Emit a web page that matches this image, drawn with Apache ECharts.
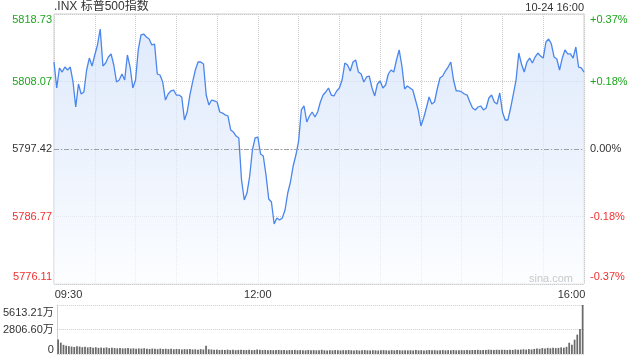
<!DOCTYPE html>
<html><head><meta charset="utf-8">
<script src="https://cdn.jsdelivr.net/npm/echarts@6/dist/echarts.min.js"></script>
<style>html,body{margin:0;padding:0;background:#fff}#c{width:640px;height:360px}</style>
</head><body><div id="c"></div>
<script>
const prevClose = 5797.42;
const step = 10.655;
const leftTicks = ['5776.11','5786.77','5797.42','5808.07','5818.73'];
const rightTicks = ['-0.37%','-0.18%','0.00%','+0.18%','+0.37%'];
const volTicks = ['0','2806.60万','5613.21万'];
const timeLabels = ['09:30','12:00','16:00'];
const titleText = '.INX 标普500指数';
const dateText = '10-24 16:00';

// price every 2 minutes, 09:30 .. 16:00
const prices = [
5811.15,5807.05,5810.21,5809.57,5810.36,5809.89,5810.36,5808.00,5804.05,5807.68,
5806.10,5806.42,5809.89,5811.78,5810.52,5812.26,5813.84,5816.36,5810.52,5810.99,
5811.94,5812.42,5810.68,5808.00,5808.31,5809.26,5808.31,5812.26,5810.36,5807.05,
5808.31,5813.05,5815.42,5815.57,5815.10,5814.78,5813.84,5813.99,5809.26,5809.10,
5808.00,5805.15,5806.10,5806.58,5806.73,5805.94,5805.94,5805.63,5802.00,5803.26,
5805.94,5808.00,5809.89,5811.15,5811.15,5810.84,5805.94,5804.36,5805.15,5805.00,
5804.84,5803.26,5803.10,5802.79,5802.63,5800.42,5800.10,5799.47,5799.16,5792.53,
5789.37,5790.47,5793.16,5797.26,5799.16,5799.31,5796.63,5796.31,5793.31,5789.53,
5789.05,5785.58,5786.53,5786.21,5786.53,5787.79,5790.47,5792.21,5794.74,5796.47,
5798.68,5803.58,5804.21,5801.68,5802.63,5803.26,5802.47,5803.26,5804.84,5805.94,
5806.42,5807.05,5805.94,5805.79,5806.58,5807.05,5808.31,5810.99,5810.68,5809.73,
5811.15,5811.47,5809.57,5809.26,5808.00,5808.79,5808.94,5807.05,5805.79,5807.68,
5808.15,5807.05,5807.52,5809.26,5809.89,5809.57,5811.47,5813.05,5810.52,5806.89,
5807.36,5807.05,5806.73,5805.15,5803.58,5801.05,5802.31,5803.89,5805.63,5804.52,
5804.84,5806.89,5808.63,5808.94,5809.73,5810.36,5811.15,5808.31,5806.58,5806.58,
5806.42,5806.10,5805.94,5804.84,5803.89,5803.58,5804.05,5804.21,5803.58,5803.89,
5805.47,5805.94,5804.84,5804.52,5806.26,5803.26,5802.00,5802.00,5803.89,5806.10,
5808.31,5812.57,5810.84,5809.57,5811.15,5811.78,5810.99,5811.94,5812.57,5812.10,
5811.78,5814.31,5814.78,5813.99,5811.94,5811.63,5809.89,5811.78,5813.05,5812.42,
5812.42,5811.78,5813.52,5810.36,5810.21,5809.57
];

// volume (万) every 2 minutes
const volumes = [
1650,1300,1050,950,900,850,800,900,850,780,
820,760,800,720,780,700,740,700,760,680,
720,680,650,700,640,660,700,620,650,600,
640,620,660,600,580,620,600,560,620,580,
600,560,600,540,580,560,520,560,540,580,
520,540,500,560,520,950,540,520,480,500,
460,480,460,500,450,480,440,470,500,460,
450,480,440,460,520,480,450,470,440,460,
430,450,470,440,460,420,450,440,470,430,
450,440,420,460,430,450,420,440,480,430,
410,440,420,450,430,410,440,420,460,430,
410,440,400,430,450,420,410,440,420,400,
430,450,420,410,440,420,460,430,410,440,
420,430,410,450,420,440,400,430,460,420,
440,410,430,450,420,440,430,460,420,440,
450,430,470,440,460,450,480,440,470,460,
500,480,460,490,470,500,480,460,500,470,
520,490,510,540,500,560,520,580,620,600,
680,640,700,660,720,680,700,760,720,820,
1290,1050,1640,2220,2850,5613.21
];

const times = [];
for (let m = 0; m <= 390; m += 2) {
  const t = 570 + m;
  times.push(String(Math.floor(t / 60)).padStart(2, '0') + ':' + String(t % 60).padStart(2, '0'));
}

const FONT = 'Arial, "Liberation Sans", "Noto Sans CJK SC", sans-serif';
const GREEN = '#1ea51e', RED = '#f03030', DARK = '#333';
const lbl = (c, pad) => ({ color: c, fontSize: 11, fontFamily: FONT, padding: pad });
const yRich = {
  gt: lbl(GREEN, [12, 0, 0, 0]), gm: lbl(GREEN, [0, 0, 0, 0]),
  km: lbl(DARK, [0, 0, 0, 0]),
  rm: lbl(RED, [0, 0, 0, 0]), rb: lbl(RED, [0, 0, 14, 0])
};
const yKey = ['rb', 'rm', 'km', 'gm', 'gt'];
const yFmt = arr => v => {
  const i = Math.round(v + 2);
  return '{' + yKey[i] + '|' + arr[i] + '}';
};

const chart = echarts.init(document.getElementById('c'), null, { renderer: 'canvas' });
chart.setOption({
  animation: false,
  textStyle: { fontFamily: FONT },
  title: [
    { text: titleText, left: 54, top: 1, padding: 0, textStyle: { fontSize: 12, fontWeight: 'normal', color: DARK, fontFamily: FONT } },
    { text: dateText, right: 56, top: 2, padding: 0, textStyle: { fontSize: 11, fontWeight: 'normal', color: DARK, fontFamily: FONT } }
  ],
  graphic: [
    { type: 'text', right: 67, top: 273, silent: true, z: 100,
      style: { text: 'sina.com', fill: '#c8c8c8', font: '11px ' + FONT } }
  ],
  grid: [
    { left: 54, right: 56, top: 14, height: 270, show: true, borderColor: '#cfcfcf', borderWidth: 1, backgroundColor: 'transparent' },
    { left: 54, right: 56, top: 305, height: 49 }
  ],
  xAxis: [
    {
      type: 'category', gridIndex: 0, data: times, boundaryGap: false,
      axisLine: { show: false }, axisTick: { show: false },
      axisLabel: {
        margin: 5,
        interval: (i, v) => timeLabels.includes(v),
        formatter: v => v === timeLabels[0] ? '{l|' + v + '}' : (v === timeLabels[2] ? '{r|' + v + '}' : '{c|' + v + '}'),
        rich: {
          l: { color: DARK, fontSize: 11, fontFamily: FONT, padding: [0, 0, 0, 29] },
          r: { color: DARK, fontSize: 11, fontFamily: FONT, padding: [0, 25, 0, 0] },
          c: { color: DARK, fontSize: 11, fontFamily: FONT }
        }
      },
      splitLine: { show: true, interval: i => i % 15 === 0, lineStyle: { color: '#cccccc', type: 'dotted', width: 1 } }
    },
    {
      type: 'category', gridIndex: 1, data: times, boundaryGap: true,
      axisLine: { show: false }, axisTick: { show: false }, axisLabel: { show: false }, splitLine: { show: false }
    }
  ],
  yAxis: [
    {
      type: 'value', gridIndex: 0, position: 'left', min: -2, max: 2, interval: 1,
      axisLine: { show: false }, axisTick: { show: false },
      axisLabel: { margin: 2, formatter: yFmt(leftTicks), rich: yRich },
      splitLine: { show: true, lineStyle: { color: '#cccccc', type: 'dotted', width: 1 } }
    },
    {
      type: 'value', gridIndex: 0, position: 'right', min: -2, max: 2, interval: 1,
      axisLine: { show: false }, axisTick: { show: false },
      axisLabel: { margin: 6, formatter: yFmt(rightTicks), rich: yRich },
      splitLine: { show: false }
    },
    {
      type: 'value', gridIndex: 1, min: 0, max: 5613.21, interval: 2806.605,
      axisLine: { show: true, lineStyle: { color: '#cfcfcf' } }, axisTick: { show: false },
      axisLabel: {
        margin: 3,
        formatter: v => {
          const i = Math.round(v / 2806.605);
          return '{' + ['b', 'm', 't'][i] + '|' + volTicks[i] + '}';
        },
        rich: {
          t: { color: DARK, fontSize: 11, fontFamily: FONT, padding: [16, 0, 0, 0] },
          m: { color: DARK, fontSize: 11, fontFamily: FONT },
          b: { color: DARK, fontSize: 11, fontFamily: FONT, padding: [0, 0, 9, 0] }
        }
      },
      splitLine: { show: true, lineStyle: { color: '#cccccc', type: 'dotted', width: 1 } }
    }
  ],
  series: [
    {
      type: 'line', xAxisIndex: 0, yAxisIndex: 0,
      data: prices.map(p => (p - prevClose) / step),
      symbol: 'none', smooth: false,
      lineStyle: { color: '#4a86ec', width: 1.3 },
      areaStyle: {
        origin: 'start',
        color: new echarts.graphic.LinearGradient(0, 0, 0, 1, [
          { offset: 0, color: '#d2e1fa' },
          { offset: 0.5, color: '#e4edfc' },
          { offset: 1, color: '#fafcff' }
        ])
      },
      markLine: {
        silent: true, symbol: 'none', label: { show: false },
        lineStyle: { color: '#a0a0a0', type: [5, 2, 1, 2], width: 1 },
        data: [{ yAxis: 0 }]
      }
    },
    {
      type: 'bar', xAxisIndex: 1, yAxisIndex: 2,
      data: volumes, barWidth: '65%',
      itemStyle: { color: '#6a6a6a' }
    }
  ]
});
</script>
</body></html>
